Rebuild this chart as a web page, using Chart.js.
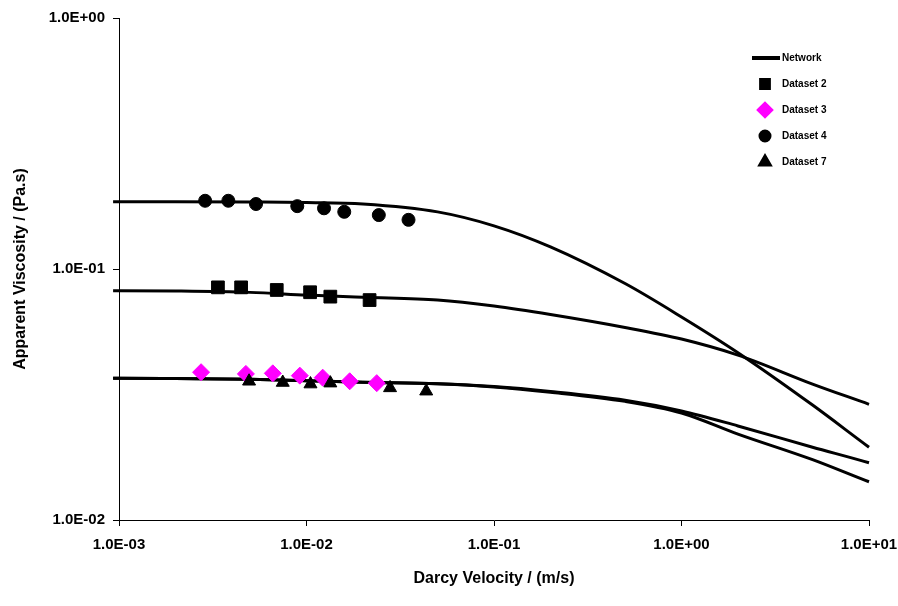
<!DOCTYPE html>
<html>
<head>
<meta charset="utf-8">
<script src="https://cdn.jsdelivr.net/npm/chart.js@4.4.0/dist/chart.umd.min.js"></script>
<style>
  html, body { margin: 0; padding: 0; background: #fff; }
  #wrap { width: 898px; height: 606px; }
</style>
</head>
<body>
<div id="wrap"><canvas id="viscChart" width="898" height="606"></canvas></div>
<script>
const xTicks = [0.001, 0.01, 0.1, 1, 10];
const xTickLabels = ["1.0E-03", "1.0E-02", "1.0E-01", "1.0E+00", "1.0E+01"];
const yTicks = [0.01, 0.1, 1];
const yTickLabels = ["1.0E-02", "1.0E-01", "1.0E+00"];

// measured points
const ds2Velocity = [0.00337, 0.00448, 0.00694, 0.01045, 0.0134, 0.0217];
const ds2Viscosity = [0.0845, 0.0845, 0.0825, 0.0808, 0.0776, 0.0752];
const ds3Velocity = [0.00274, 0.00475, 0.00661, 0.00921, 0.0122, 0.0170, 0.0237];
const ds3Viscosity = [0.0388, 0.0382, 0.0384, 0.0376, 0.0369, 0.0357, 0.0351];
const ds4Velocity = [0.00288, 0.00383, 0.00538, 0.00893, 0.0124, 0.0159, 0.0243, 0.0350];
const ds4Viscosity = [0.187, 0.187, 0.1815, 0.178, 0.1745, 0.169, 0.164, 0.157];
const ds7Velocity = [0.00494, 0.00747, 0.0105, 0.0134, 0.0279, 0.0435];
const ds7Viscosity = [0.0357, 0.0353, 0.0348, 0.0351, 0.0336, 0.0326];

// network model curves
const networkVelocity = [0.00093, 0.001, 0.002, 0.005, 0.01, 0.02, 0.05, 0.1, 0.2, 0.5, 1, 2, 5, 10, 10.8];
const network4 = [0.1854, 0.1854, 0.1854, 0.1849, 0.1841, 0.1816, 0.1689, 0.1486, 0.1225, 0.0875, 0.0644, 0.0464, 0.0287, 0.0195, 0.0187];
const network2 = [0.0819, 0.0819, 0.0817, 0.0807, 0.0787, 0.0771, 0.0752, 0.0712, 0.0659, 0.0585, 0.0526, 0.0454, 0.0348, 0.0289, 0.0283];
const network3 = [0.0367, 0.0367, 0.0366, 0.0364, 0.0359, 0.0354, 0.0349, 0.0340, 0.0325, 0.0300, 0.0272, 0.0237, 0.0195, 0.0169, 0.0166];
const network7 = [0.0367, 0.0367, 0.0366, 0.0364, 0.0359, 0.0354, 0.0349, 0.0339, 0.0323, 0.0297, 0.0267, 0.0220, 0.0174, 0.0142, 0.0139];

const FONT = '"Liberation Sans", Arial, sans-serif';

function toPoints(xs, ys) {
  return xs.map((x, i) => ({ x: x, y: ys[i] }));
}

function networkLine(values, label, inLegend) {
  return {
    label: label,
    data: toPoints(networkVelocity, values),
    showLine: true,
    borderColor: "#000",
    borderWidth: 3,
    pointRadius: 0,
    cubicInterpolationMode: "monotone",
    clip: 8,
    order: 10,
    inLegend: inLegend
  };
}

function markers(xs, ys, label, style, radius, legendRadius, color, order) {
  return {
    label: label,
    data: toPoints(xs, ys),
    pointStyle: style,
    pointRadius: radius,
    backgroundColor: color,
    borderColor: color,
    borderWidth: 1,
    showLine: false,
    order: order,
    inLegend: true,
    legendRadius: legendRadius
  };
}

const cornerLegend = {
  id: "cornerLegend",
  afterDraw(chart) {
    const { ctx, chartArea } = chart;
    const markX = chartArea.right - 104;
    const textX = chartArea.right - 87;
    let rowY = chartArea.top + 40;
    ctx.save();
    ctx.font = "bold 10px " + FONT;
    ctx.textBaseline = "middle";
    ctx.textAlign = "left";
    chart.data.datasets.filter(d => d.inLegend).forEach(d => {
      if (d.showLine) {
        ctx.strokeStyle = "#000";
        ctx.lineWidth = 4;
        ctx.beginPath();
        ctx.moveTo(markX - 13, rowY);
        ctx.lineTo(markX + 15, rowY);
        ctx.stroke();
      } else {
        ctx.fillStyle = d.backgroundColor;
        ctx.strokeStyle = d.borderColor;
        Chart.helpers.drawPoint(ctx, {
          pointStyle: d.pointStyle,
          radius: d.legendRadius,
          rotation: 0,
          borderWidth: 1
        }, markX, rowY);
      }
      ctx.fillStyle = "#000";
      ctx.fillText(d.label, textX, rowY);
      rowY += 26;
    });
    ctx.restore();
  }
};

const ctx = document.getElementById("viscChart").getContext("2d");
new Chart(ctx, {
  type: "scatter",
  data: {
    datasets: [
      networkLine(network4, "Network", true),
      networkLine(network2, "Network", false),
      networkLine(network3, "Network", false),
      networkLine(network7, "Network", false),
      markers(ds2Velocity, ds2Viscosity, "Dataset 2", "rect", 9, 5.5, "#000", 3),
      markers(ds3Velocity, ds3Viscosity, "Dataset 3", "rectRot", 8.5, 6, "#ff00ff", 2),
      markers(ds4Velocity, ds4Viscosity, "Dataset 4", "circle", 6.5, 4.5, "#000", 3),
      markers(ds7Velocity, ds7Viscosity, "Dataset 7", "triangle", 7.5, 5, "#000", 1)
    ]
  },
  options: {
    responsive: false,
    animation: false,
    events: [],
    layout: { padding: { top: 18, right: 29, left: 0, bottom: 0 } },
    plugins: {
      legend: { display: false },
      tooltip: { enabled: false }
    },
    scales: {
      x: {
        type: "logarithmic",
        min: 0.001,
        max: 10,
        afterBuildTicks: (scale) => { scale.ticks = xTicks.map(v => ({ value: v })); },
        afterFit: (scale) => {
          scale.height = 86;
          scale.paddingLeft = 0;
          scale.paddingRight = 0;
        },
        ticks: {
          callback: (v, i) => xTickLabels[i],
          font: { family: FONT, size: 15, weight: "bold" },
          color: "#000",
          padding: 10,
          maxRotation: 0,
          autoSkip: false
        },
        grid: { drawOnChartArea: false, tickLength: 6, color: "#000", lineWidth: 1 },
        border: { color: "#000", width: 1 },
        title: {
          display: true,
          text: "Darcy Velocity / (m/s)",
          font: { family: FONT, size: 16, weight: "bold" },
          color: "#000",
          padding: { top: 0, bottom: 18 }
        }
      },
      y: {
        type: "logarithmic",
        min: 0.01,
        max: 1,
        afterBuildTicks: (scale) => { scale.ticks = yTicks.map(v => ({ value: v })); },
        afterFit: (scale) => {
          scale.width = 119;
          scale.paddingTop = 0;
          scale.paddingBottom = 0;
        },
        ticks: {
          callback: (v, i) => yTickLabels[i],
          font: { family: FONT, size: 15, weight: "bold" },
          color: "#000",
          padding: 8,
          autoSkip: false
        },
        grid: { drawOnChartArea: false, tickLength: 6, color: "#000", lineWidth: 1 },
        border: { color: "#000", width: 1 },
        title: {
          display: true,
          text: "Apparent Viscosity / (Pa.s)",
          font: { family: FONT, size: 16, weight: "bold" },
          color: "#000",
          padding: { top: 11, bottom: 0 }
        }
      }
    }
  },
  plugins: [cornerLegend]
});
</script>
</body>
</html>
